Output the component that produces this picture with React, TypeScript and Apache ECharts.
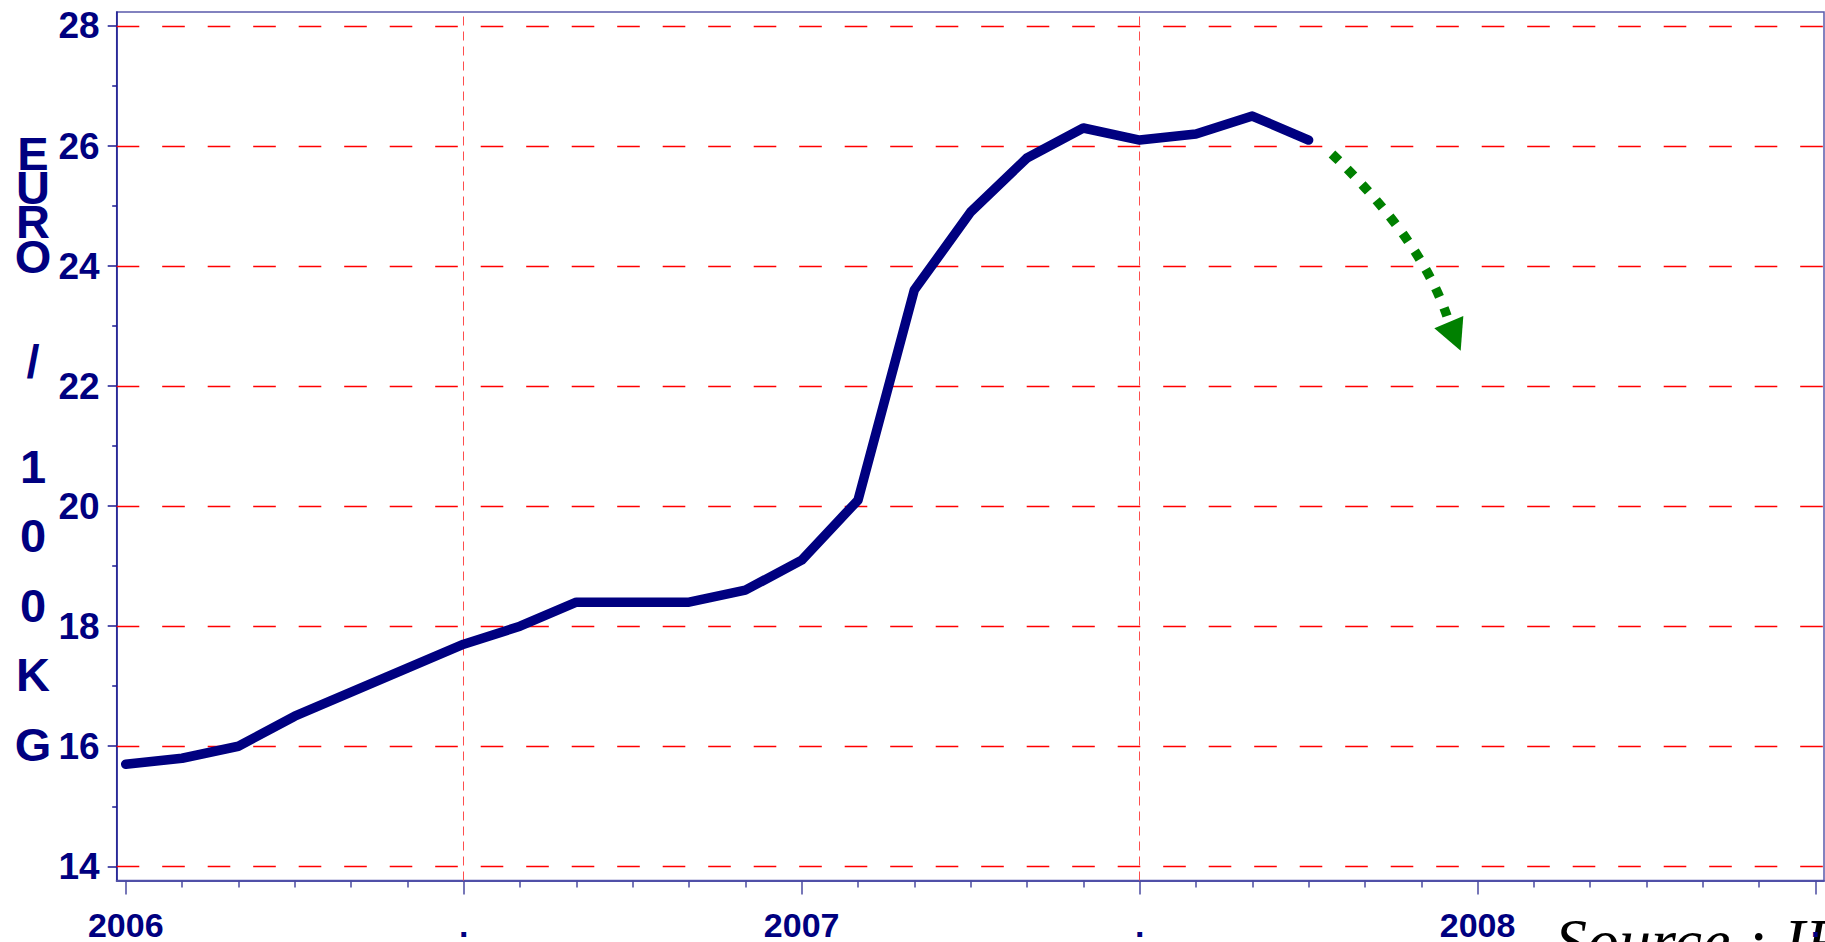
import React, { useEffect, useRef } from "react";
import * as echarts from "echarts";

// ---- data ----
const months = [0, 1, 2, 3, 4, 5, 6, 7, 8, 9, 10, 11, 12, 13, 14, 15, 16, 17, 18, 19, 20, 21];
const prices = [15.7, 15.8, 16.0, 16.5, 16.9, 17.3, 17.7, 18.0, 18.4, 18.4, 18.4, 18.6, 19.1, 20.1, 23.6, 24.9, 25.8, 26.3, 26.1, 26.2, 26.5, 26.1];

const xMajorValues = [0, 6, 12, 18, 24, 30];
const xMajorLabels = ["2006", ".", "2007", ".", "2008", "."];
const xMinorValues = [1, 2, 3, 4, 5, 7, 8, 9, 10, 11, 13, 14, 15, 16, 17, 19, 20, 21, 22, 23, 25, 26, 27, 28, 29];
const yMajorValues = [14, 16, 18, 20, 22, 24, 26, 28];
const yMinorValues = [15, 17, 19, 21, 23, 25, 27];
const vGridMonths = [6, 18];

// forecast arrow (in data space: month, value)
const forecastCurve = [
  [21.415, 25.867],
  [22.978, 24.468],
  [23.457, 23.168],
];
const forecastHead = [
  [23.232, 22.963],
  [23.747, 23.168],
  [23.7, 22.59],
];

const titleLetters = ["E", "U", "R", "O", "/", "1", "0", "0", "K", "G"];
const sourceText = "Source : IFIP";

// ---- layout ----
const W = 1825;
const H = 942;
const titleLetterY = [153, 187, 221, 256, 361, 466, 535, 605, 674, 744];
const NAVY = "#000080";
const FONT = "'Liberation Sans', Arial, sans-serif";

export default function App() {
  const ref = useRef<HTMLDivElement>(null);

  useEffect(() => {
    if (!ref.current) return;
    const chart = echarts.init(ref.current, undefined, { renderer: "svg" });

    const xMin = -0.16;
    const xMax = 30.15;
    const yMin = 13.763;
    const yMax = 28.233;

    const option: any = {
      animation: false,
      backgroundColor: "#ffffff",
      grid: {
        left: 116.7,
        right: 1,
        top: 12,
        bottom: 61.5,
        containLabel: false,
        outerBoundsMode: "none",
        show: true,
        borderColor: "#5a5aaa",
        borderWidth: 1.5,
        backgroundColor: "transparent",
      },
      xAxis: [
        {
          type: "value",
          position: "bottom",
          min: xMin,
          max: xMax,
          axisLine: { show: true, onZero: false, lineStyle: { color: "#5050a8", width: 2 } },
          axisTick: {
            show: true,
            customValues: xMajorValues,
            length: 14,
            lineStyle: { color: "#4a4aa0", width: 1.5 },
          },
          axisLabel: {
            show: true,
            customValues: xMajorValues,
            margin: 27,
            color: NAVY,
            fontSize: 34,
            fontWeight: "bold",
            fontFamily: FONT,
            formatter: (v: number) => {
              const i = xMajorValues.indexOf(Math.round(v));
              return i >= 0 ? xMajorLabels[i] : "";
            },
          },
          splitLine: { show: false },
        },
        {
          type: "value",
          position: "bottom",
          min: xMin,
          max: xMax,
          axisLine: { show: false, onZero: false },
          axisTick: {
            show: true,
            customValues: xMinorValues,
            length: 7,
            lineStyle: { color: "#4a4aa0", width: 1.5 },
          },
          axisLabel: { show: false },
          splitLine: { show: false },
        },
      ],
      yAxis: [
        {
          type: "value",
          position: "left",
          min: yMin,
          max: yMax,
          axisLine: { show: true, onZero: false, lineStyle: { color: "#1a1a90", width: 1.5 } },
          axisTick: {
            show: true,
            customValues: yMajorValues,
            length: 9,
            lineStyle: { color: "#1a1a90", width: 1.5 },
          },
          axisLabel: {
            show: true,
            customValues: yMajorValues,
            margin: 17,
            color: NAVY,
            fontSize: 37,
            fontWeight: "bold",
            fontFamily: FONT,
            padding: [6, 0, 0, 0],
          },
          splitLine: { show: false },
        },
        {
          type: "value",
          position: "left",
          min: yMin,
          max: yMax,
          axisLine: { show: false, onZero: false },
          axisTick: {
            show: true,
            customValues: yMinorValues,
            length: 4.5,
            lineStyle: { color: "#1a1a90", width: 1.5 },
          },
          axisLabel: { show: false },
          splitLine: { show: false },
        },
      ],
      series: [
        {
          type: "line",
          xAxisIndex: 0,
          yAxisIndex: 0,
          data: months.map((m, i) => [m, prices[i]]),
          showSymbol: false,
          symbol: "none",
          z: 3,
          lineStyle: { color: NAVY, width: 9.5, cap: "round", join: "round" },
          markLine: {
            silent: true,
            symbol: "none",
            z: 1,
            animation: false,
            label: { show: false },
            data: [
              ...yMajorValues.map((v) => ({
                yAxis: v,
                lineStyle: { color: "#ff0000", width: 1.3, type: [22.6, 22.9] },
              })),
              ...vGridMonths.map((m) => ({
                xAxis: m,
                lineStyle: { color: "#ff4d4d", width: 1, type: [9, 6] },
              })),
            ],
          },
        },
      ],
    };

    chart.setOption(option);

    const px = (p: number[]) => chart.convertToPixel({ xAxisIndex: 0, yAxisIndex: 0 }, p) as number[];
    const c0 = px(forecastCurve[0]);
    const c1 = px(forecastCurve[1]);
    const c2 = px(forecastCurve[2]);
    const head = forecastHead.map(px);

    const elements: any[] = [];
    titleLetters.forEach((ch, i) => {
      elements.push({
        type: "text",
        x: 33,
        y: titleLetterY[i],
        z: 10,
        style: {
          text: ch,
          fill: NAVY,
          font: `bold 47px ${FONT}`,
          align: "center",
          verticalAlign: "middle",
        },
      });
    });
    elements.push({
      type: "bezierCurve",
      z: 10,
      shape: { x1: c0[0], y1: c0[1], cpx1: c1[0], cpy1: c1[1], x2: c2[0], y2: c2[1] },
      style: { stroke: "#008000", lineWidth: 9.5, lineDash: [9.5, 11.8], lineCap: "butt", fill: null },
    });
    elements.push({
      type: "polygon",
      z: 10,
      shape: { points: head },
      style: { fill: "#008000", stroke: null },
    });
    elements.push({
      type: "text",
      x: 1555,
      y: 909,
      z: 0,
      style: {
        text: sourceText,
        fill: "#000000",
        font: `italic 64px 'Liberation Serif', 'Times New Roman', serif`,
        align: "left",
        verticalAlign: "top",
      },
    });

    chart.setOption({ graphic: { elements } });

    return () => {
      chart.dispose();
    };
  }, []);

  return (
    <div
      ref={ref}
      style={{ position: "absolute", left: 0, top: 0, width: W, height: H, background: "#fff" }}
    />
  );
}
